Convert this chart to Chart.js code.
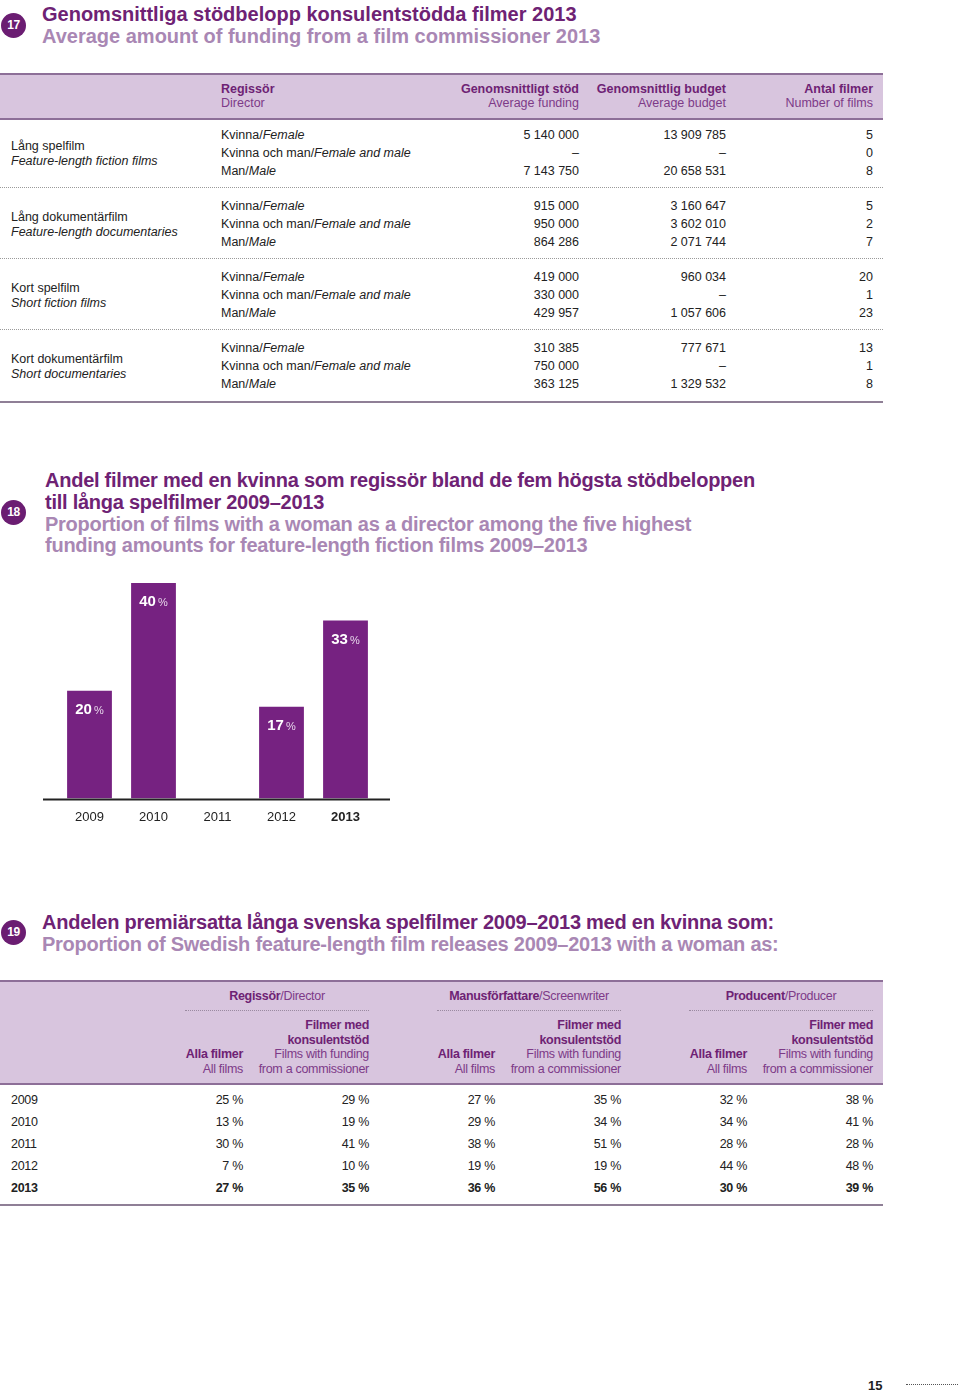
<!DOCTYPE html>
<html>
<head>
<meta charset="utf-8">
<script src="https://cdn.jsdelivr.net/npm/chart.js@4"></script>
<style>
  body { margin: 0; width: 960px; height: 1391px; background: #fff; position: relative; overflow: hidden;
         font-family: "Liberation Sans", Arial, sans-serif; color: #222; }
  .t { position: absolute; white-space: nowrap; line-height: 1; transform: translateY(-50%); }
  .badge { position: absolute; width: 25px; height: 25px; border-radius: 50%; background: #6b1d72; color: #fff;
           font: bold 12px "Liberation Sans", Arial; letter-spacing: -0.5px; text-align: center; line-height: 25px; }
  .h1 { color: #6e2274; font-weight: bold; font-size: 20px; }
  .h2 { color: #a987b4; font-weight: bold; font-size: 20px; }
  .band { position: absolute; left: 0; width: 883px; background: #d8c5de; border-top: 2px solid #8d6f98; border-bottom: 2px solid #8d6f98; }
  .dots { position: absolute; height: 0; border-top: 1px dotted #999; }
  .ph { color: #6e2274; font-weight: bold; }
  .pr { color: #7d3a88; }
  .narrow { letter-spacing: -0.3px; }
</style>
</head>
<body>
<div id="page"></div>
<div style="position:absolute; left:43px; top:529px; width:347px; height:311px;">
  <canvas id="barChart"></canvas>
</div>
<script>
// ---- table 17 ----
const catSv = ["Lång spelfilm", "Lång dokumentärfilm", "Kort spelfilm", "Kort dokumentärfilm"];
const catEn = ["Feature-length fiction films", "Feature-length documentaries", "Short fiction films", "Short documentaries"];
const dirSv = ["Kvinna", "Kvinna och man", "Man"];
const dirEn = ["Female", "Female and male", "Male"];
const avgFunding = [
  ["5 140 000", "–", "7 143 750"],
  ["915 000", "950 000", "864 286"],
  ["419 000", "330 000", "429 957"],
  ["310 385", "750 000", "363 125"]
];
const avgBudget = [
  ["13 909 785", "–", "20 658 531"],
  ["3 160 647", "3 602 010", "2 071 744"],
  ["960 034", "–", "1 057 606"],
  ["777 671", "–", "1 329 532"]
];
const filmCount = [
  [5, 0, 8],
  [5, 2, 7],
  [20, 1, 23],
  [13, 1, 8]
];

// ---- chart 18 ----
const years = ["2009", "2010", "2011", "2012", "2013"];
const womanShare = [20, 40, 0, 17, 33];

// ---- table 19 ----
const years19 = ["2009", "2010", "2011", "2012", "2013"];
const directorAll = [25, 13, 30, 7, 27];
const directorFunded = [29, 19, 41, 10, 35];
const writerAll = [27, 29, 38, 19, 36];
const writerFunded = [35, 34, 51, 19, 56];
const producerAll = [32, 34, 28, 44, 30];
const producerFunded = [38, 41, 28, 48, 39];

const page = document.getElementById("page");

function txt(x, y, html, cls, align, extra) {
    const d = document.createElement("div");
    d.className = "t " + (cls || "");
    d.innerHTML = html;
    if (align === "right") d.style.right = (960 - x) + "px";
    else if (align === "center") { d.style.left = x + "px"; d.style.transform = "translate(-50%,-50%)"; }
    else d.style.left = x + "px";
    d.style.top = y + "px";
    if (extra) Object.assign(d.style, extra);
    page.appendChild(d);
    return d;
}
function box(cls, style) {
    const d = document.createElement("div");
    d.className = cls;
    Object.assign(d.style, style);
    page.appendChild(d);
}
function badge(y, n) {
    const d = document.createElement("div");
    d.className = "badge";
    d.textContent = n;
    d.style.left = "1px";
    d.style.top = (y - 12) + "px";
    page.appendChild(d);
}

// ---------- section 17 ----------
badge(25, "17");
txt(42, 14, "Genomsnittliga stödbelopp konsulentstödda filmer 2013", "h1");
txt(42, 36, "Average amount of funding from a film commissioner 2013", "h2");

box("band", { top: "73px", height: "43px" });
const f13 = { fontSize: "12.5px" };
txt(221, 89, "Regissör", "ph", null, f13);
txt(221, 103, "Director", "pr", null, f13);
txt(579, 89, "Genomsnittligt stöd", "ph", "right", f13);
txt(579, 103, "Average funding", "pr", "right", f13);
txt(726, 89, "Genomsnittlig budget", "ph", "right", f13);
txt(726, 103, "Average budget", "pr", "right", f13);
txt(873, 89, "Antal filmer", "ph", "right", f13);
txt(873, 103, "Number of films", "pr", "right", f13);

catSv.forEach((c, g) => {
    const y0 = 135 + g * 71;
    txt(11, y0 + 11, c, "", null, f13);
    txt(11, y0 + 26, "<i>" + catEn[g] + "</i>", "", null, f13);
    dirSv.forEach((d, r) => {
        const y = y0 + r * 18;
        txt(221, y, d + "/<i>" + dirEn[r] + "</i>", "", null, f13);
        txt(579, y, avgFunding[g][r], "", "right", f13);
        txt(726, y, avgBudget[g][r], "", "right", f13);
        txt(873, y, String(filmCount[g][r]), "", "right", f13);
    });
    if (g < 3) box("dots", { left: "0px", width: "883px", top: (y0 + 52) + "px", borderTop: "1px dotted #9a9a9a" });
});
box("dots", { left: "0px", width: "883px", top: "401px", borderTop: "2px solid #8f7f96" });

// ---------- section 18 ----------
badge(512, "18");
const t18 = { fontSize: "20px", letterSpacing: "-0.25px" };
txt(45, 480, "Andel filmer med en kvinna som regissör bland de fem högsta stödbeloppen", "h1", null, t18);
txt(45, 502, "till långa spelfilmer 2009–2013", "h1", null, t18);
txt(45, 524, "Proportion of films with a woman as a director among the five highest", "h2", null, t18);
txt(45, 545, "funding amounts for feature-length fiction films 2009–2013", "h2", null, t18);

// ---------- section 19 ----------
badge(932, "19");
const t19 = { fontSize: "20px", letterSpacing: "-0.25px" };
txt(42, 922, "Andelen premiärsatta långa svenska spelfilmer 2009–2013 med en kvinna som:", "h1", null, t19);
txt(42, 944, "Proportion of Swedish feature-length film releases 2009–2013 with a woman as:", "h2", null, t19);

box("band", { top: "980px", height: "101px" });
const n13 = { fontSize: "12.5px" };
const groups19 = [["Regissör", "Director"], ["Manusförfattare", "Screenwriter"], ["Producent", "Producer"]];
const colRight = [243, 369, 495, 621, 747, 873];
groups19.forEach((gr, i) => {
    const r = colRight[i * 2 + 1];
    txt((r - 184 + r) / 2, 996, '<span class="ph">' + gr[0] + '</span><span class="pr">/' + gr[1] + '</span>', "narrow", "center", n13);
    box("dots", { left: (r - 184) + "px", width: "184px", top: "1010px", borderTop: "1px dotted #9a8aa0" });
    txt(r, 1025, "Filmer med", "ph narrow", "right", n13);
    txt(r, 1040, "konsulentstöd", "ph narrow", "right", n13);
    txt(r, 1054, "Films with funding", "pr narrow", "right", n13);
    txt(r, 1069, "from a commissioner", "pr narrow", "right", n13);
    txt(colRight[i * 2], 1054, "Alla filmer", "ph narrow", "right", n13);
    txt(colRight[i * 2], 1069, "All films", "pr narrow", "right", n13);
});
const cols19 = [directorAll, directorFunded, writerAll, writerFunded, producerAll, producerFunded];
years19.forEach((yr, r) => {
    const y = 1100 + r * 22;
    const last = r === years19.length - 1;
    const st = Object.assign({}, n13, last ? { fontWeight: "bold" } : {});
    txt(11, y, yr, "narrow", null, st);
    cols19.forEach((col, c) => {
        txt(colRight[c], y, col[r] + " %", "narrow", "right", st);
    });
});
box("dots", { left: "0px", width: "883px", top: "1204px", borderTop: "2px solid #8f7f96" });

// page number
txt(868, 1385, "15", "", null, { fontWeight: "bold", fontSize: "13px" });
box("dots", { left: "906px", width: "52px", top: "1384px", borderTop: "1.5px dotted #555" });

// ---------- bar chart ----------
const barLabels = {
    id: "barLabels",
    afterDatasetsDraw(chart) {
        const ctx = chart.ctx;
        const meta = chart.getDatasetMeta(0);
        ctx.save();
        meta.data.forEach((bar, i) => {
            const v = womanShare[i];
            if (!v) return;
            ctx.font = "bold 15px 'Liberation Sans', Arial";
            const w1 = ctx.measureText(String(v)).width;
            ctx.font = "11px 'Liberation Sans', Arial";
            const w2 = ctx.measureText("%").width;
            const total = w1 + 2 + w2;
            const x0 = bar.x - total / 2;
            const y = bar.y + 19;
            ctx.textBaseline = "middle";
            ctx.fillStyle = "#fff";
            ctx.font = "bold 15px 'Liberation Sans', Arial";
            ctx.fillText(String(v), x0, y);
            ctx.fillStyle = "#e6d6ea";
            ctx.font = "11px 'Liberation Sans', Arial";
            ctx.fillText("%", x0 + w1 + 2, y + 1);
        });
        // baseline
        const a = chart.chartArea;
        ctx.strokeStyle = "#222";
        ctx.lineWidth = 2;
        ctx.beginPath();
        ctx.moveTo(0, a.bottom + 1);
        ctx.lineTo(chart.width, a.bottom + 1);
        ctx.stroke();
        ctx.restore();
    }
};

new Chart(document.getElementById("barChart").getContext("2d"), {
    type: "bar",
    data: {
        labels: years,
        datasets: [
            {
                data: womanShare,
                backgroundColor: "#762281",
                borderWidth: 0,
                categoryPercentage: 1,
                barPercentage: 0.7
            }
        ]
    },
    options: {
        responsive: true,
        maintainAspectRatio: false,
        animation: false,
        layout: { padding: { left: 14.5, right: 12.5, top: 0, bottom: 4 } },
        plugins: {
            legend: { display: false },
            tooltip: { enabled: false }
        },
        scales: {
            x: {
                grid: { display: false, drawTicks: false },
                border: { display: false },
                ticks: {
                    color: "#222",
                    padding: 11,
                    font: ctx => ({
                        family: "'Liberation Sans', Arial",
                        size: 13,
                        weight: ctx.index === 4 ? "bold" : "normal"
                    })
                }
            },
            y: {
                display: false,
                min: 0,
                max: 50
            }
        }
    },
    plugins: [barLabels]
});
</script>
</body>
</html>
